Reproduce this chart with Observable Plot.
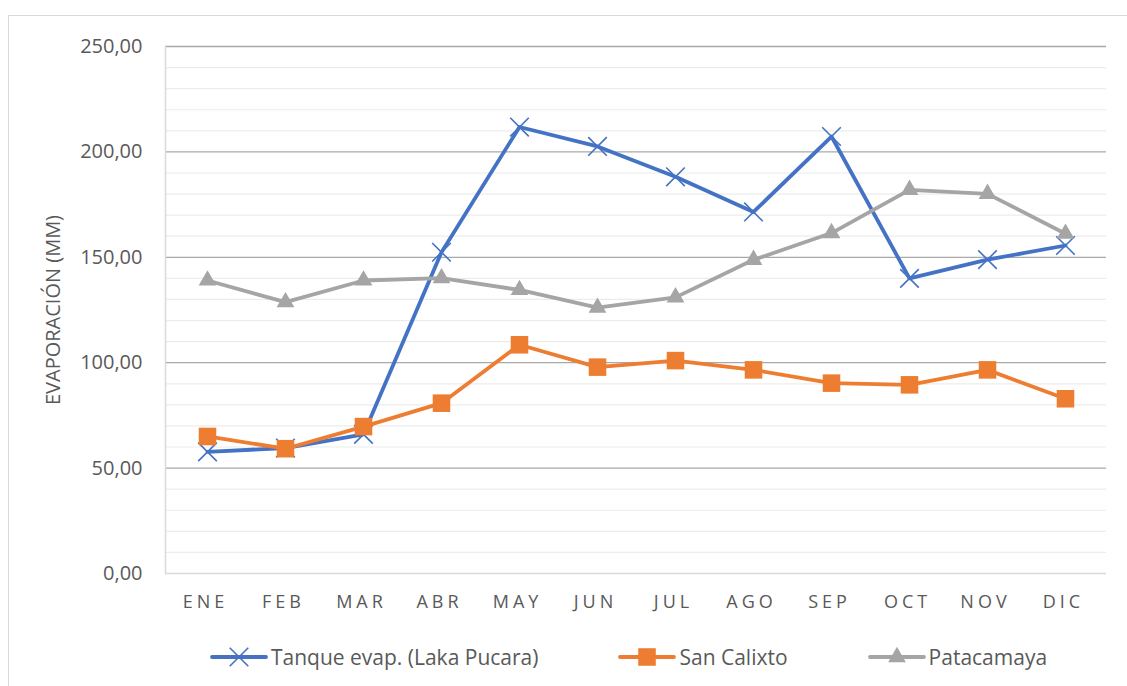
<!DOCTYPE html>
<html>
<head>
<meta charset="utf-8">
<script src="https://cdn.jsdelivr.net/npm/d3@7"></script>
<script src="https://cdn.jsdelivr.net/npm/@observablehq/plot@0.6"></script>
<style>
  body { margin: 0; background: #fff; font-family: "Open Sans", sans-serif; }
  #wrap { position: relative; width: 1127px; height: 686px; overflow: hidden; }
  #border { position: absolute; left: 8px; top: 15px; right: -2px; bottom: -2px;
            border-left: 1.5px solid #d9d9d9; border-top: 1.5px solid #d9d9d9; }
  #chart { position: absolute; left: 0; top: 0; }
  #chart g[aria-label="x-axis tick label"] text { letter-spacing: 4px; }
  #legend { position: absolute; left: 0; top: 644px; width: 1127px; height: 26px;
            display: flex; justify-content: center; align-items: center;
            font-size: 21px; color: #595959; padding-left: 130px; box-sizing: border-box; }
  .item { display: flex; align-items: center; margin: 0 40px; }
  .item svg { margin-right: 3px; }
</style>
</head>
<body>
<div id="wrap">
  <div id="border"></div>
  <div id="chart"></div>
  <div id="legend"></div>
</div>
<script>
const months = ["ENE","FEB","MAR","ABR","MAY","JUN","JUL","AGO","SEP","OCT","NOV","DIC"];
const seriesNames = ["Tanque evap. (Laka Pucara)", "San Calixto", "Patacamaya"];
const tanque     = [57.7, 59.5, 66.0, 152.4, 211.8, 202.6, 188.2, 171.5, 207.3, 140.0, 148.9, 155.6];
const sanCalixto = [65.0, 59.2, 69.7, 80.8, 108.5, 97.9, 101.0, 96.6, 90.3, 89.5, 96.6, 82.9];
const patacamaya = [139.0, 128.7, 139.0, 140.1, 134.5, 126.1, 131.0, 148.8, 161.5, 182.0, 180.1, 161.2];
const colors = ["#4472C4", "#ED7D31", "#A5A5A5"];
const symbols = ["times", "square", "triangle"];
const yMajor = [0, 50, 100, 150, 200, 250];
const yMinor = d3.range(10, 250, 10).filter(v => v % 50 !== 0);
const yTitle = "EVAPORACIÓN (MM)";

const seriesValues = [tanque, sanCalixto, patacamaya];
const rows = seriesNames.flatMap((s, i) => months.map((m, j) => ({series: s, month: m, value: seriesValues[i][j]})));

const markR = {times: 8.5, square: 9.9, triangle: 6.6};

const seriesMarks = seriesNames.flatMap((s, i) => {
  const d = rows.filter(r => r.series === s);
  const sym = symbols[i];
  const dot = sym === "times"
    ? Plot.dot(d, {x: "month", y: "value", symbol: sym, r: markR[sym], stroke: "series", strokeWidth: 1.6})
    : Plot.dot(d, {x: "month", y: "value", symbol: sym, r: markR[sym], fill: "series", stroke: "none"});
  return [
    Plot.line(d, {x: "month", y: "value", stroke: "series", strokeWidth: 3.8, strokeLinejoin: "round", strokeLinecap: "round"}),
    dot
  ];
});

const fmt = v => v.toFixed(2).replace(".", ",");

const chart = Plot.plot({
  width: 1127,
  height: 630,
  marginLeft: 165,
  marginRight: 21,
  marginTop: 46,
  marginBottom: 57,
  style: {fontFamily: "'Open Sans', sans-serif", background: "transparent", overflow: "visible"},
  x: {type: "point", domain: months, padding: 0.5},
  y: {domain: [0, 250]},
  color: {domain: seriesNames, range: colors},
  marks: [
    Plot.ruleY(yMinor, {stroke: "#ececec", strokeWidth: 1.2}),
    Plot.ruleY(yMajor.filter(v => v > 0), {stroke: "#a9a9a9", strokeWidth: 1.3}),
    Plot.ruleY([0], {stroke: "#d9d9d9", strokeWidth: 1.5}),
    Plot.frame({anchor: "left", stroke: "#d9d9d9", strokeWidth: 1.5}),
    Plot.axisY({ticks: yMajor, tickSize: 0, tickPadding: 23, tickFormat: fmt, fontSize: 20, fill: "#595959", label: null}),
    Plot.axisX({tickSize: 0, tickPadding: 22, fontSize: 18, fill: "#595959", label: null, dx: -2}),
    Plot.text([yTitle], {frameAnchor: "left", dx: -112, rotate: -90, textAnchor: "middle", fontSize: 20, fill: "#595959", style: "letter-spacing:0.9px"}),
    ...seriesMarks
  ]
});
document.getElementById("chart").appendChild(chart);

// Legend (HTML below the plot)
const legend = document.getElementById("legend");
seriesNames.forEach((s, i) => {
  const item = document.createElement("div");
  item.className = "item";
  const sw = d3.create("svg").attr("width", 58).attr("height", 24);
  sw.append("line").attr("x1", 2).attr("x2", 56).attr("y1", 12).attr("y2", 12)
    .attr("stroke", colors[i]).attr("stroke-width", 3.8).attr("stroke-linecap", "round");
  const symType = {times: d3.symbolTimes, square: d3.symbolSquare, triangle: d3.symbolTriangle}[symbols[i]];
  const r = markR[symbols[i]];
  const p = sw.append("path").attr("transform", "translate(29,12)")
    .attr("d", d3.symbol(symType, r * r * Math.PI)());
  if (symbols[i] === "times") p.attr("fill", "none").attr("stroke", colors[i]).attr("stroke-width", 1.6);
  else p.attr("fill", colors[i]);
  item.appendChild(sw.node());
  const t = document.createElement("span");
  t.textContent = s;
  item.appendChild(t);
  legend.appendChild(item);
});
</script>
</body>
</html>
